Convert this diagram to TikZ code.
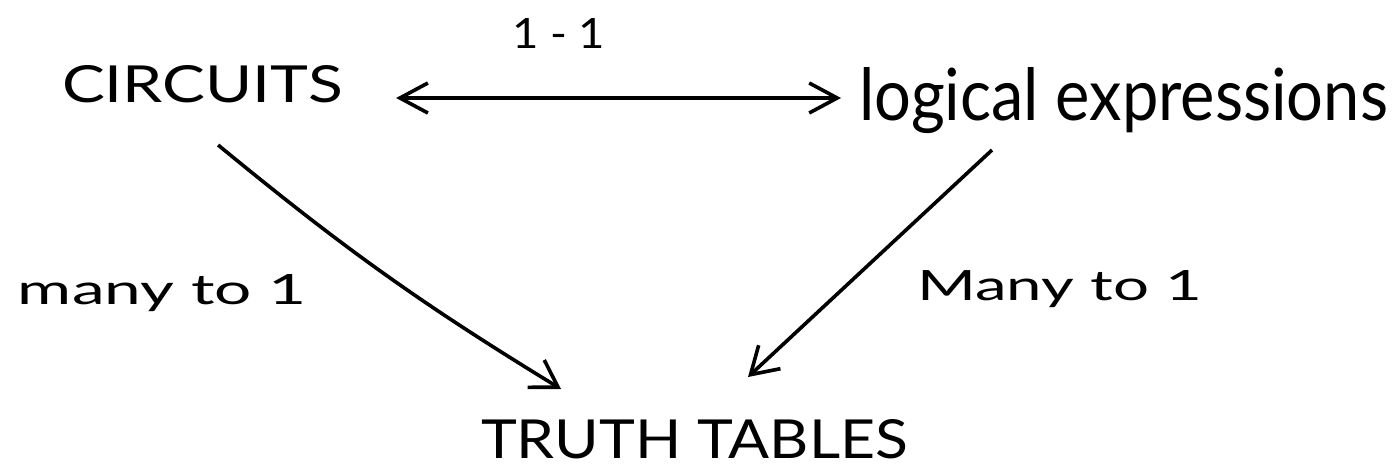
\documentclass[tikz,border=0pt]{standalone}
\usepackage{graphicx}
\usepackage{fontspec}
\setmainfont{Lato}
\usetikzlibrary{arrows.meta}
\begin{document}
\begin{tikzpicture}[x=0.5pt,y=-0.5pt,line width=1.8pt,
  >={Straight Barb[length=13pt,width=16pt,line width=1.8pt]},
  lbl/.style={inner sep=0pt,outer sep=0pt,anchor=base west},
  arr/.style={->},
  dbl/.style={{Straight Barb[length=14pt,width=15pt,line width=1.8pt]}-{Straight Barb[length=14pt,width=15pt,line width=1.8pt]}}]
\useasboundingbox (0,0) rectangle (1395,467);
\node[lbl] (one) at (512,48) {\resizebox{46.5pt}{15pt}{1 - 1}};
\node[lbl] (c) at (62,102) {\resizebox{140.5pt}{18.5pt}{CIRCUITS}};
\node[lbl] (l) at (859,120) {\resizebox{264.5pt}{26.5pt}{logical expressions}};
\node[lbl] (m1) at (18,304) {\resizebox{144.5pt}{15pt}{many to 1}};
\node[lbl] (m2) at (917,300) {\resizebox{142.5pt}{15pt}{Many to 1}};
\node[lbl] (t) at (481,458) {\resizebox{213.5pt}{19.5pt}{TRUTH TABLES}};
\draw[dbl] ([shift={(53,-4)}]c.base east) -- ([shift={(-18,-22)}]l.base west);
\draw[arr] ([shift={(-125,43)}]c.base east) to[bend right=4] ([shift={(80,-69)}]t.base west);
\draw[arr] ([shift={(133,30)}]l.base west) -- ([shift={(-160,-81)}]t.base east);
\end{tikzpicture}
\end{document}
